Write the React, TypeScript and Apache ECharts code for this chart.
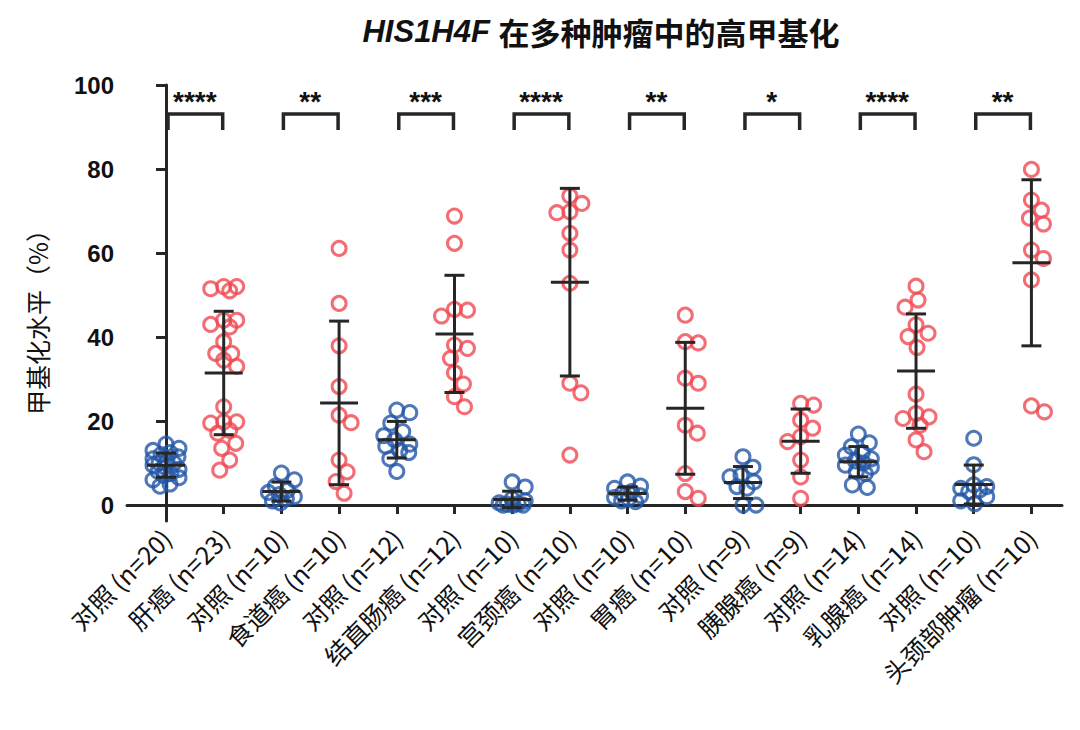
import React, { useEffect, useRef } from "react";
import * as echarts from "echarts";

const categories = [
  "对照 (n=20)", "肝癌 (n=23)", "对照 (n=10)", "食道癌 (n=10)",
  "对照 (n=12)", "结直肠癌 (n=12)", "对照 (n=10)", "宫颈癌 (n=10)",
  "对照 (n=10)", "胃癌 (n=10)", "对照 (n=9)", "胰腺癌 (n=9)",
  "对照 (n=14)", "乳腺癌 (n=14)", "对照 (n=10)", "头颈部肿瘤 (n=10)",
];

const ctrlLiver = [14.5, 13.5, 13, 12.5, 12, 11.5, 11, 10.5, 10, 10, 9.5, 9, 8.5, 8, 7.5, 7, 6.5, 6, 5, 4.5];
const liver = [52, 51, 51.5, 52, 44, 44, 42.4, 43, 38.9, 36.1, 36.1, 34.5, 33, 23.4, 19.8, 19.5, 19.8, 17.8, 17.1, 14.7, 13.5, 10.7, 8.3];
const ctrlEso = [7.6, 6.0, 4.5, 3.5, 3, 2.5, 2, 1.5, 1, 0.5];
const eso = [61.1, 48, 37.9, 28.2, 21.4, 19.6, 10.7, 7.9, 5.6, 2.8];
const ctrlCrc = [22.6, 22.0, 19.5, 17.5, 16.5, 15.5, 14.5, 14, 13, 12.5, 11, 8];
const crc = [68.8, 62.3, 46.4, 46.6, 45, 38.1, 37.3, 34.9, 31.5, 28.8, 25.8, 23.4];
const ctrlCervix = [5.5, 4.3, 1.5, 1, 0.5, 0.3, 0.2, 0, 0, 0];
const cervix = [73.6, 71.8, 69.8, 69.6, 64.7, 60.7, 52.8, 29, 26.7, 11.9];
const ctrlGastric = [5.5, 4.5, 4, 3.2, 2.8, 2.2, 1.8, 1.5, 1, 0.8];
const gastric = [45.2, 38.6, 38.9, 30.2, 29, 19, 17.1, 7.5, 1.6, 3.2];
const ctrlPanc = [11.5, 9, 7.1, 6.7, 5.5, 4.4, 4.0, 0, 0];
const panc = [24.2, 23.8, 20.2, 18.3, 16.3, 15.1, 10.7, 6.7, 1.6];
const ctrlBreast = [16.9, 14.8, 13.9, 12.5, 11.9, 11, 10.5, 10, 9.5, 9, 8, 7.5, 4.8, 4.2];
const breast = [52.1, 48.8, 47.1, 42.9, 40.9, 40.1, 37.5, 26.4, 21.8, 21, 20.6, 19, 15.5, 12.7];
const ctrlHn = [15.9, 9.6, 4.8, 4.4, 4, 3.6, 3.2, 2, 1, 0.3];
const hn = [79.9, 72.6, 70.2, 68.3, 66.9, 60.7, 58.7, 53.6, 22.2, 23.6];

const groups = [ctrlLiver, liver, ctrlEso, eso, ctrlCrc, crc, ctrlCervix, cervix, ctrlGastric, gastric, ctrlPanc, panc, ctrlBreast, breast, ctrlHn, hn];

const sigPairs = [[0, 1], [2, 3], [4, 5], [6, 7], [8, 9], [10, 11], [12, 13], [14, 15]];
const sigLabels = ["****", "**", "***", "****", "**", "*", "****", "**"];

const yTicks = [0, 20, 40, 60, 80, 100];
const xTicks = categories.map((_, i) => i);

const BLUE = "#2356a6";
const RED = "#f04852";
const DARK = "#262626";

// layout constants (pixels per data unit) for the beeswarm spread
const XU = 57.7;
const YU = 4.2;

function swarm(values: number[]): number[] {
  const order = values.map((v, i) => i).sort((a, b) => values[b] - values[a]);
  const placed: { x: number; y: number }[] = [];
  const offsets: number[] = new Array(values.length).fill(0);
  const D = 14;
  const W = 13;
  for (const idx of order) {
    const y = values[idx] * YU;
    let best = 0;
    let bestScore = -1;
    let found = false;
    const cands: number[] = [0];
    for (let k = 1; k <= W; k++) { cands.push(k); cands.push(-k); }
    for (const x of cands) {
      let minD = Infinity;
      for (const p of placed) {
        const d = Math.hypot(p.x - x, p.y - y);
        if (d < minD) minD = d;
      }
      if (minD >= D) { best = x; found = true; break; }
      if (minD > bestScore) { bestScore = minD; best = x; }
    }
    if (!found && placed.length === 0) best = 0;
    placed.push({ x: best, y });
    offsets[idx] = best / XU;
  }
  return offsets;
}

function mean(a: number[]) { return a.reduce((s, v) => s + v, 0) / a.length; }
function sd(a: number[]) {
  const m = mean(a);
  return Math.sqrt(a.reduce((s, v) => s + (v - m) * (v - m), 0) / (a.length - 1));
}

export default function App() {
  const ref = useRef<HTMLDivElement>(null);
  useEffect(() => {
    document.body.style.margin = "0";
    const chart = echarts.init(ref.current!, null, { renderer: "svg" });

    const ctrlData: number[][] = [];
    const caseData: number[][] = [];
    groups.forEach((g, gi) => {
      const off = swarm(g);
      g.forEach((v, k) => {
        (gi % 2 === 0 ? ctrlData : caseData).push([gi + off[k], v]);
      });
    });
    const statData = groups.map((g, gi) => [gi, mean(g), sd(g)]);

    const pointStyle = (c: string) => ({
      color: "rgba(0,0,0,0)",
      borderColor: c,
      borderWidth: 3,
    });

    chart.setOption({
      animation: false,
      grid: { left: 127, right: 18, top: 85, bottom: 209 },
      xAxis: {
        type: "value",
        min: -0.676,
        max: 15.53,
        splitLine: { show: false },
        axisLine: { lineStyle: { color: DARK, width: 3 } },
        axisTick: { customValues: xTicks, length: 9, lineStyle: { color: DARK, width: 3 } },
        axisLabel: {
          customValues: xTicks,
          formatter: (v: number) => categories[Math.round(v)] ?? "",
          rotate: 45,
          margin: 12,
          fontSize: 25,
          color: "#111",
          fontFamily: "Noto Sans CJK SC",
        },
      },
      yAxis: {
        type: "value",
        min: -3.8,
        max: 100,
        splitLine: { show: false },
        axisLine: { show: true, lineStyle: { color: DARK, width: 3 } },
        axisTick: { show: true, customValues: yTicks, length: 10, lineStyle: { color: DARK, width: 3 } },
        axisLabel: {
          customValues: yTicks,
          margin: 13,
          fontSize: 24,
          fontWeight: "bold",
          color: "#111",
          fontFamily: "Liberation Sans",
        },
      },
      graphic: [
        {
          type: "text",
          x: 601,
          y: 31,
          style: {
            text: "{i|HIS1H4F }{c|在多种肿瘤中的高甲基化}",
            align: "center",
            verticalAlign: "middle",
            rich: {
              i: { fontFamily: "Liberation Sans", fontStyle: "italic", fontWeight: "bold", fontSize: 31, fill: "#111" },
              c: { fontFamily: "Noto Sans CJK SC", fontWeight: "bold", fontSize: 31, fill: "#111" },
            },
          },
        },
        {
          type: "text",
          x: 37,
          y: 316,
          rotation: Math.PI / 2,
          style: {
            text: "甲基化水平（%）",
            align: "center",
            verticalAlign: "middle",
            fontFamily: "Noto Sans CJK SC",
            fontSize: 25,
            fill: "#111",
          },
        },
      ],
      series: [
        {
          type: "scatter",
          data: ctrlData,
          symbol: "circle",
          symbolSize: 14,
          itemStyle: pointStyle(BLUE),
          z: 2,
        },
        {
          type: "scatter",
          data: caseData,
          symbol: "circle",
          symbolSize: 14,
          itemStyle: pointStyle(RED),
          z: 2,
        },
        {
          type: "custom",
          data: statData,
          z: 5,
          clip: false,
          renderItem: (params: any, api: any) => {
            const i = api.value(0), m = api.value(1), s = api.value(2);
            const c = api.coord([i, m]);
            const t = api.coord([i, m + s]);
            const b = api.coord([i, m - s]);
            const style = { stroke: DARK, lineWidth: 3 };
            return {
              type: "group",
              children: [
                { type: "line", shape: { x1: c[0], y1: t[1], x2: c[0], y2: b[1] }, style },
                { type: "line", shape: { x1: c[0] - 10, y1: t[1], x2: c[0] + 10, y2: t[1] }, style },
                { type: "line", shape: { x1: c[0] - 10, y1: b[1], x2: c[0] + 10, y2: b[1] }, style },
                { type: "line", shape: { x1: c[0] - 19, y1: c[1], x2: c[0] + 19, y2: c[1] }, style },
              ],
            };
          },
        },
        {
          type: "custom",
          data: sigPairs,
          z: 5,
          clip: false,
          renderItem: (params: any, api: any) => {
            const a = api.value(0), b = api.value(1);
            const p0 = api.coord([a, 89.3]);
            const p1 = api.coord([a, 93.1]);
            const p2 = api.coord([b, 93.1]);
            const p3 = api.coord([b, 89.3]);
            const pt = api.coord([(a + b) / 2, 96.0]);
            return {
              type: "group",
              children: [
                {
                  type: "polyline",
                  shape: { points: [[p0[0] + 2, p0[1]], [p1[0] + 2, p1[1]], [p2[0] - 1, p2[1]], [p3[0] - 1, p3[1]]] },
                  style: { stroke: DARK, lineWidth: 3.5, fill: "none" },
                },
                {
                  type: "text",
                  x: pt[0],
                  y: pt[1],
                  style: {
                    text: sigLabels[params.dataIndex],
                    align: "center",
                    verticalAlign: "middle",
                    fontFamily: "Liberation Sans",
                    fontWeight: "bold",
                    fontSize: 28,
                    fill: "#111",
                  },
                },
              ],
            };
          },
        },
      ],
    });
    return () => chart.dispose();
  }, []);
  return <div ref={ref} style={{ width: 1080, height: 730 }} />;
}
